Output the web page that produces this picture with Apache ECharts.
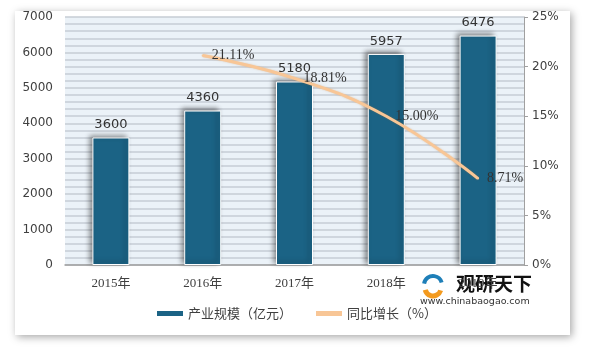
<!DOCTYPE html>
<html><head><meta charset="utf-8">
<script src="https://cdn.jsdelivr.net/npm/echarts@6/dist/echarts.min.js"></script>
<style>html,body{margin:0;padding:0;background:#fff}#c{width:601px;height:361px}</style>
</head><body><div id="c"></div>
<script>
const categories = ['2015年','2016年','2017年','2018年','2019年'];
const scaleValues = [3600, 4360, 5180, 5957, 6476];
const growthValues = ['-', 21.11, 18.81, 15.00, 8.71];
const leftTicks = [0, 7000, 1000];
const rightTicks = [0, 25, 5];
const seriesNames = ['产业规模（亿元）', '同比增长（%）'];

const chart = echarts.init(document.getElementById('c'), null, {renderer: 'canvas'});
chart.setOption({
  animation: false,
  backgroundColor: '#fff',
  graphic: [
    {type: 'rect', z: -10, shape: {x: 15, y: 11, width: 555, height: 324},
     style: {fill: '#fff', shadowColor: 'rgba(0,0,0,0.35)', shadowBlur: 8, shadowOffsetX: 2, shadowOffsetY: 2}},
    {type: 'group', z: 100, children: [
      {type: 'arc', shape: {cx: 433, cy: 285, r: 9, startAngle: 3.3, endAngle: 6.0}, style: {fill: 'none', stroke: '#1E7FB8', lineWidth: 4}},
      {type: 'arc', shape: {cx: 433, cy: 288, r: 8, startAngle: 0.3, endAngle: 2.9}, style: {fill: 'none', stroke: '#F39A1E', lineWidth: 5}},
      {type: 'text', style: {x: 456, y: 284, text: '观研天下', font: 'bold 19px "Noto Sans CJK SC"', fill: '#111', verticalAlign: 'middle'}},
      {type: 'text', style: {x: 420, y: 302, text: 'www.chinabaogao.com', font: '9.5px "DejaVu Sans"', fill: '#333', verticalAlign: 'middle'}}
    ]}
  ],
  grid: {left: 65, right: 77, top: 17, bottom: 96, show: true, backgroundColor: '#EBF2F8', borderWidth: 0},
  legend: {
    bottom: 36, left: 152, itemGap: 24,
    textStyle: {fontFamily: '"Noto Sans CJK SC"', fontSize: 13, color: '#404040'},
    data: [
      {name: seriesNames[0], icon: 'rect', itemStyle: {borderWidth: 0, shadowBlur: 0, shadowOffsetX: 0, shadowOffsetY: 0}},
      {name: seriesNames[1], icon: 'rect', itemStyle: {color: '#F8C696', opacity: 1}}
    ],
    itemWidth: 26, itemHeight: 5
  },
  xAxis: {
    type: 'category', data: categories,
    axisLine: {lineStyle: {color: '#A0A0A0', width: 1.5}},
    axisTick: {show: false},
    axisLabel: {fontFamily: '"Liberation Serif", "Noto Sans CJK SC"', fontSize: 13, color: '#404040', margin: 12}
  },
  yAxis: [
    {type: 'value', min: leftTicks[0], max: leftTicks[1], interval: leftTicks[2],
     axisLine: {show: false}, axisTick: {show: false},
     axisLabel: {formatter: v => String(v), fontFamily: '"DejaVu Sans"', fontSize: 12, color: '#404040', margin: 12},
     splitLine: {lineStyle: {color: '#C6CDD5', width: 1.5}},
     minorTick: {show: false, splitNumber: 5},
     minorSplitLine: {show: true, lineStyle: {color: '#C6CDD5', width: 1.5}}},
    {type: 'value', min: rightTicks[0], max: rightTicks[1], interval: rightTicks[2],
     axisLine: {show: true, lineStyle: {color: '#A0A0A0', width: 1}},
     axisTick: {show: true, length: 4, lineStyle: {color: '#A0A0A0'}},
     axisLabel: {formatter: '{value}%', fontFamily: '"DejaVu Sans"', fontSize: 12, color: '#404040', margin: 8},
     splitLine: {show: false}}
  ],
  series: [
    {name: seriesNames[0], type: 'bar', data: scaleValues, barWidth: 37,
     itemStyle: {color: '#1B6385', borderColor: '#fff', borderWidth: 1,
       shadowColor: 'rgba(0,0,0,0.45)', shadowBlur: 5, shadowOffsetX: -3, shadowOffsetY: -2},
     label: {show: true, position: 'top', distance: 6, fontFamily: '"DejaVu Sans"', fontSize: 13, color: '#333'}},
    {name: seriesNames[1], type: 'line', yAxisIndex: 1, data: growthValues, smooth: 0.45,
     showSymbol: true, symbol: 'circle', symbolSize: 2, connectNulls: false,
     lineStyle: {color: '#F8C696', width: 3, shadowColor: 'rgba(200,120,40,0.35)', shadowBlur: 2},
     itemStyle: {color: '#F8C696'},
     label: {show: true, position: 'right', distance: 8,
       formatter: p => (typeof p.value === 'number' ? p.value.toFixed(2) + '%' : ''),
       fontFamily: '"Liberation Serif"', fontSize: 14, color: '#333'}}
  ]
});
</script></body></html>
